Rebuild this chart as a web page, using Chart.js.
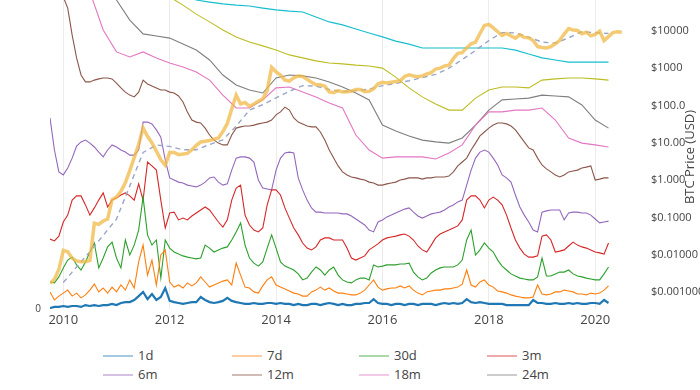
<!DOCTYPE html>
<html>
<head>
<meta charset="utf-8">
<script src="https://cdn.jsdelivr.net/npm/chart.js@4.4.1/dist/chart.umd.min.js"></script>
<style>
  html, body { margin: 0; padding: 0; background: #fff; }
  #wrap { position: relative; width: 700px; height: 390px; overflow: hidden; font-family: "Open Sans", sans-serif; }
  #chart { position: absolute; left: 0; top: 0; }
  .leg { position: absolute; height: 19px; font-size: 13px; color: #444; white-space: nowrap; }
  .leg i { position: absolute; left: 0; top: 9px; width: 30px; height: 2px; opacity: 0.4; }
  .leg span { position: absolute; left: 35px; top: 0; line-height: 19px; }
</style>
</head>
<body>
<div id="wrap">
  <canvas id="chart" width="700" height="340"></canvas>
  <div id="legend"></div>
</div>
<script>
// time grid: monthly and quarterly points starting Oct 2009
const monthStart = 2009.75;
const quarterStart = 2009.75;
const yearTicks = [2010, 2012, 2014, 2016, 2018, 2020];
const priceTicks = [0.001, 0.01, 0.1, 1, 10, 100, 1000, 10000];

// short-term bands (monthly)
const hodl1d = [0.3,0.7,0.7,1.0,0.7,1.0,1.0,0.7,1.3,1.0, 1.3,1.0,1.3,1.3,1.7,1.3,2.0,2.3,2.3,3.0,
  4.3,5.7,3.3,5.0,3.0,4.0,7.0,2.7,2.3,2.0, 1.7,2.0,2.3,2.3,4.0,3.0,2.3,2.0,2.3,2.7,
  3.7,2.7,2.3,2.0,1.7,1.7,2.0,1.7,1.7,2.0, 2.0,1.7,2.0,1.7,1.7,1.3,1.7,1.3,1.3,1.7,
  1.7,1.3,1.7,2.0,1.7,1.3,1.7,1.3,1.3,1.7, 1.7,2.0,2.0,3.3,2.0,1.7,1.7,1.3,1.7,1.7,
  1.3,1.7,1.7,1.3,1.7,1.7,1.7,1.3,1.7,2.0, 1.7,2.0,1.7,2.0,3.3,2.3,2.0,2.3,2.0,1.7,
  1.7,1.7,1.7,1.3,1.3,1.3,1.3,1.3,1.3,3.0, 2.0,2.0,1.7,1.7,2.0,1.7,1.7,2.0,1.7,2.0,
  1.7,1.7,2.0,2.0,1.7,3.0,2.0];
const hodl7d = [5.7,3.0,4.3,5.3,6.3,4.3,5.3,3.7,4.7,6.3, 8.3,5.7,7.0,5.3,7.3,5.7,8.0,6.3,9.7,7.0,
  15.7,21.3,11.3,16.3,8.0,18.0,19.7,9.0,7.3,8.0, 7.0,8.7,7.7,8.7,10.7,9.0,7.3,8.0,8.7,9.3,
  9.7,8.0,15.3,11.3,7.3,7.0,5.7,5.3,7.7,9.7, 10.7,8.0,7.3,6.7,6.0,5.3,5.0,4.3,4.3,5.7,
  6.3,7.3,6.3,7.0,6.0,5.3,5.3,5.0,4.7,4.7, 5.3,6.3,8.0,9.7,7.3,6.3,6.7,7.0,7.0,7.7,
  7.0,7.7,6.3,5.3,4.7,5.7,6.0,6.3,6.3,6.7, 6.7,7.0,7.3,8.3,13.0,8.0,7.3,9.0,9.7,8.0,
  7.3,6.0,5.7,5.3,4.7,4.3,4.0,3.7,3.7,4.0, 8.0,5.0,4.7,5.0,5.7,5.7,6.3,6.0,5.7,5.0,
  5.0,4.7,5.3,5.0,5.3,6.3,7.7];
const hodl30d = [9.0,8.7,10.7,13.7,16.3,17.3,14.7,13.0,15.7,19.0, 22.0,13.7,17.0,20.7,22.3,17.0,13.7,23.0,18.0,21.3,
  26.3,37.3,24.7,21.3,23.0,10.3,23.0,20.3,19.0,18.3, 17.7,17.3,17.0,16.7,17.0,21.3,20.3,19.0,19.7,20.3,
  20.7,23.0,25.7,28.7,21.3,17.0,15.3,14.3,15.7,20.3, 24.7,20.3,15.7,14.3,13.7,13.0,11.7,9.7,10.3,12.3,
  14.0,13.0,11.3,13.0,14.0,11.3,9.7,9.0,8.7,9.7, 10.3,10.3,9.7,14.7,14.0,14.3,14.7,14.7,14.7,15.0,
  15.0,15.3,12.3,10.7,9.7,10.3,12.0,13.0,13.7,14.0, 14.0,14.0,14.7,16.3,23.0,26.3,18.0,19.7,22.0,20.3,
  19.0,16.3,14.3,13.0,11.7,11.0,10.3,10.0,9.7,9.7, 10.7,17.0,11.0,11.0,11.7,12.3,12.3,13.0,11.7,11.0,
  10.7,10.3,10.0,9.7,9.7,11.7,14.0];
const hodl3m = [23.3,22.7,24.3,29.0,31.3,36.3,37.7,37.7,34.7,31.3, 33.7,36.3,38.7,34.0,36.3,37.0,38.0,38.7,37.7,36.3,
  41.7,36.3,49.0,47.7,46.3,36.3,27.0,32.0,32.3,29.7, 30.3,29.7,31.0,32.0,33.0,34.0,33.0,31.0,29.0,27.3,
  29.7,36.3,40.3,41.3,31.3,28.0,26.3,25.7,27.0,34.7, 39.7,39.7,38.0,33.7,30.3,27.0,24.7,22.0,20.3,19.7,
  20.7,23.0,23.7,23.7,23.0,23.0,23.0,20.3,17.0,16.3, 17.0,17.7,19.7,20.7,21.7,23.0,23.7,24.0,24.3,24.7,
  25.0,24.3,23.0,21.0,19.7,19.0,21.3,23.7,25.0,25.7, 26.3,27.0,27.7,29.7,36.3,37.7,37.7,36.3,33.7,36.3,
  37.3,36.3,34.7,31.3,27.0,23.0,20.3,18.3,17.3,17.3, 17.7,24.3,24.7,23.0,19.0,19.3,19.7,21.0,22.3,21.3,
  20.7,20.3,19.7,19.0,18.7,18.3,22.0];
const hodl6m = [63.7,53.0,45.7,44.7,47.0,50.3,54.3,55.7,56.3,55.3, 54.0,52.3,50.7,53.0,54.7,54.0,53.0,52.3,51.3,51.3,
  53.0,62.3,62.3,61.7,59.7,57.3,49.7,43.7,43.0,42.3, 42.0,41.3,41.0,40.7,41.3,42.3,43.7,44.0,42.3,41.3,
  41.7,46.3,50.3,50.7,50.7,50.3,49.0,43.0,40.3,40.0, 39.7,46.3,50.3,52.0,52.3,52.0,43.7,39.7,36.3,33.7,
  32.3,32.3,32.0,32.0,32.0,32.0,31.7,31.7,31.0,30.0, 29.0,28.0,26.3,25.7,29.0,29.7,30.7,31.3,32.0,32.7,
  33.3,33.7,32.3,31.0,30.3,31.0,31.7,32.0,32.3,33.0, 34.0,34.7,35.7,36.3,41.3,46.3,50.3,52.3,53.0,52.3,
  50.3,48.0,44.7,43.7,42.3,38.0,34.0,31.3,29.0,26.3, 25.7,32.3,32.7,33.0,33.0,33.0,29.7,32.0,32.3,32.3,
  32.0,32.0,31.3,30.0,28.7,29.0,29.3];
const hodl12m = [129.7,119.7,109.7,104.0,100.3,91.3,83.7,78.0,75.7,75.7, 76.3,76.7,77.0,77.0,76.7,75.3,73.7,72.3,71.3,70.7,
  72.3,76.3,75.0,74.3,73.7,73.0,73.0,72.3,72.0,71.0, 69.0,65.7,63.0,62.3,62.0,60.3,58.0,56.3,55.3,54.7,
  54.7,58.0,60.3,60.7,61.0,61.0,61.3,61.7,62.0,62.3, 63.0,64.7,65.7,67.3,66.3,63.7,62.3,61.7,61.0,60.7,
  60.7,59.0,56.3,53.0,50.3,47.7,45.7,44.7,44.0,43.7, 43.3,43.0,42.3,42.0,41.3,41.3,41.7,42.0,42.3,43.0,
  43.3,43.7,43.7,43.7,43.3,43.7,43.7,44.0,44.0,44.0, 44.3,45.7,47.7,49.0,50.3,53.0,55.3,57.7,59.0,60.3,
  61.3,62.0,62.0,61.7,61.0,59.7,57.7,55.7,53.7,53.0, 50.3,48.0,46.7,45.7,44.7,44.0,44.7,45.7,46.0,46.3,
  47.0,47.3,47.7,43.0,43.3,43.7,43.7];

// long-term bands (quarterly)
const hodl18m = [153,136.3,121.3,105.7,93.0,85.7,84.0,85.7,83.7,82.0, 80.7,79.0,76.3,71.3,67.0,67.0,69.7,73.7,74.0,72.3,
  70.7,68.7,67.0,58.0,53.0,50.3,50.7,50.7,50.7,50.0, 52.0,54.7,61.3,65.7,65.7,66.3,66.3,67.0,63.0,57.0,
  55.3,54.7,54.0];
const hodl24m = [153,139.7,126.3,116.3,108.0,103.0,96.3,91.7,91.0,90.3, 88.3,86.3,83.0,78.0,74.7,73.0,72.0,77.0,78.0,77.7,
  77.0,75.7,74.0,72.0,69.7,61.3,59.3,57.7,56.3,55.7, 55.3,57.0,61.3,66.3,69.7,70.0,70.3,71.3,71.0,70.7,
  68.0,63.0,60.3];
const hodl3y = [203,189.7,176.3,163.0,149.7,136.3,124.7,114.7,107.0,104.0, 101.3,98.3,95.7,93.0,90.7,89.0,87.7,86.3,84.7,83.7,
  82.7,82.0,81.7,81.3,81.0,80.3,77.3,73.7,70.7,68.3, 66.3,66.3,70.3,73.0,74.0,74.0,73.7,76.3,76.7,77.0,
  77.0,76.7,76.3];
const hodl5y = [229.7,213.0,196.3,179.7,163.0,148.0,134.7,123.0,114.7,108.0, 104.7,103.0,102.3,101.7,101.3,101.0,100.3,99.7,99.3,99.0,
  97.3,95.7,94.7,93.3,92.0,90.7,89.3,88.3,87.0,87.0, 87.0,87.0,87.0,87.0,87.0,86.3,85.0,83.7,83.0,82.3,
  82.3,82.3,82.3];

// BTC price in USD (monthly) and its moving average (quarterly)
const btcPrice = [0.0017,0.0022,0.004,0.013,0.012,0.008,0.0068,0.0065,0.0065,0.007,
  0.07,0.065,0.08,0.09,0.3,0.35,0.5,0.85,1.8,4, 9,25,15,10,6,3.5,2.5,5.5,5.5,4.8,
  5,5.2,6.5,8.5,10.5,11,11.5,12.5,13.5,20, 33,80,190,110,120,95,110,130,150,250,
  1050,800,650,480,450,550,620,600,500,420, 360,360,330,230,220,250,230,235,240,270,
  270,235,240,280,380,420,400,420,440,460, 600,660,620,590,620,700,760,950,1000,1150,
  1200,1800,2500,2600,3500,4500,5000,8500,14000,15000, 12000,9500,7500,8500,7300,6400,7800,6700,6500,5500,
  3800,3600,3500,3800,4500,5600,8200,11500,10500,10200, 8400,9200,7400,8000,9800,5500,7000,9000,9500,9200];
const priceMA = [null,0.0018,0.0047,0.012,0.033,0.09,0.7,5.5,8.7,8, 6.5,6.5,9,12,28,75,105,160,240,340,
  330,270,235,250,275,340,390,460,560,680, 1000,1700,3000,5500,9000,8800,6800,5000,4700,6500,
  9500,9000,8500];

const bandNames = ['1d', '7d', '30d', '3m', '6m', '12m', '18m', '24m', '3y', '5y'];
const bandColors = ['#1f77b4', '#ff7f0e', '#2ca02c', '#d62728', '#9467bd', '#8c564b', '#e377c2', '#7f7f7f', '#bcbd22', '#17becf'];
const bandValues = [hodl1d, hodl7d, hodl30d, hodl3m, hodl6m, hodl12m, hodl18m, hodl24m, hodl3y, hodl5y];
const bandStep = [12, 12, 12, 12, 12, 12, 4, 4, 4, 4];

function toPoints(values, start, perYear) {
    return values.map((v, i) => ({ x: start + i / perYear, y: v }));
}

const datasets = [
    {
        label: 'BTC Price (USD)',
        data: toPoints(btcPrice, monthStart, 12),
        yAxisID: 'price',
        borderColor: 'rgba(240, 185, 70, 0.75)',
        borderWidth: 3.5
    },
    {
        label: 'Price MA (USD)',
        data: toPoints(priceMA, quarterStart, 4),
        yAxisID: 'price',
        borderColor: '#9aa6c6',
        borderWidth: 1.4,
        borderDash: [5, 4]
    }
];
bandNames.forEach((name, i) => {
    datasets.push({
        label: name,
        data: toPoints(bandValues[i], bandStep[i] === 12 ? monthStart : quarterStart, bandStep[i]),
        yAxisID: 'y',
        borderColor: bandColors[i],
        borderWidth: i === 0 ? 2.2 : 1.1
    });
});

const sideTitle = {
    id: 'sideTitle',
    afterDraw(chart) {
        const c = chart.ctx;
        c.save();
        c.translate(690, 157);
        c.rotate(-Math.PI / 2);
        c.font = '13px "Open Sans"';
        c.fillStyle = '#444';
        c.textAlign = 'center';
        c.textBaseline = 'middle';
        c.fillText('BTC Price (USD)', 0, 0);
        c.restore();
    }
};

Chart.defaults.font.family = '"Open Sans", sans-serif';
Chart.defaults.color = '#444';

new Chart(document.getElementById('chart').getContext('2d'), {
    type: 'line',
    data: { datasets: datasets },
    options: {
        responsive: false,
        animation: false,
        layout: { padding: 0 },
        elements: { point: { radius: 0 }, line: { tension: 0 } },
        plugins: { legend: { display: false }, tooltip: { enabled: false } },
        scales: {
            x: {
                type: 'linear',
                min: 2009.75,
                max: 2020.56,
                afterBuildTicks: s => { s.ticks = yearTicks.map(v => ({ value: v })); },
                afterFit: s => { s.height = 31; s.paddingLeft = 0; s.paddingRight = 0; },
                ticks: {
                    callback: v => String(v),
                    font: { size: 13 },
                    padding: 3,
                    maxRotation: 0,
                    autoSkip: false
                },
                grid: { color: '#ececec', drawTicks: false },
                border: { display: false }
            },
            y: {
                position: 'left',
                min: 0,
                max: 103,
                afterBuildTicks: s => { s.ticks = [{ value: 0 }]; },
                afterFit: s => { s.width = 50; s.paddingTop = 0; s.paddingBottom = 0; },
                ticks: { font: { size: 10 }, padding: 9 },
                grid: { display: false, drawTicks: false },
                border: { display: false }
            },
            price: {
                type: 'logarithmic',
                position: 'right',
                min: 3.5e-4,
                max: 6.73e4,
                afterBuildTicks: s => { s.ticks = priceTicks.map(v => ({ value: v })); },
                afterFit: s => { s.width = 75; s.paddingTop = 0; s.paddingBottom = 0; },
                ticks: {
                    callback: v => v >= 1000 ? '$' + v : '$' + Number(v).toPrecision(4),
                    font: { size: 11 },
                    padding: 26
                },
                grid: { display: false, drawTicks: false },
                border: { display: false }
            }
        }
    },
    plugins: [sideTitle]
});

// legend, laid out in four fixed columns like the original
const legendNames = bandNames.concat(['BTC Price (USD)', 'Price MA (USD)']);
const legendColors = bandColors.concat(['#f0b946', '#9aa6c6']);
const colX = [103, 232, 359, 487];
const rowY = [346, 365, 389];
const legend = document.getElementById('legend');
legendNames.forEach((name, i) => {
    const item = document.createElement('div');
    item.className = 'leg';
    item.style.left = colX[i % 4] + 'px';
    item.style.top = rowY[Math.floor(i / 4)] + 'px';
    const sample = document.createElement('i');
    sample.style.background = legendColors[i];
    const text = document.createElement('span');
    text.textContent = name;
    item.appendChild(sample);
    item.appendChild(text);
    legend.appendChild(item);
});
</script>
</body>
</html>
